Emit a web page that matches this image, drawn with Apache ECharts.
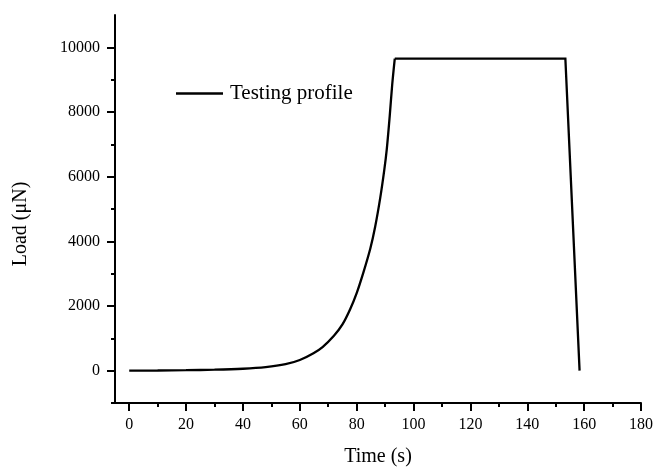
<!DOCTYPE html>
<html>
<head>
<meta charset="utf-8">
<script src="https://cdn.jsdelivr.net/npm/echarts@6/dist/echarts.min.js"></script>
<style>
  html, body { margin: 0; padding: 0; background: #fff; }
  #chart { width: 655px; height: 468px; }
</style>
</head>
<body>
<div id="chart"></div>
<script>
// Nanoindentation load profile: exponential loading ramp, hold, then unloading
const rampTime = [0, 10, 20, 30, 40, 48, 55, 60, 64.8, 68, 72, 75, 77.7, 80, 82.4, 84.8, 86.5, 88.3, 89.7, 90.6, 91.6, 92.5, 93.4];
const rampLoad = [0, 5, 15, 30, 60, 110, 200, 330, 540, 730, 1080, 1430, 1900, 2400, 3050, 3780, 4450, 5350, 6200, 6860, 7850, 8850, 9650];
const holdTime = [93.4, 153.4, 158.4];
const holdLoad = [9650, 9650, 0];

const xMajorTicks = [0, 20, 40, 60, 80, 100, 120, 140, 160, 180];
const xMinorTicks = [10, 30, 50, 70, 90, 110, 130, 150, 170];
const yMajorTicks = [0, 2000, 4000, 6000, 8000, 10000];
const yMinorTicks = [-1000, 1000, 3000, 5000, 7000, 9000];

const seriesName = 'Testing profile';
const FONT = '"Liberation Serif", "Times New Roman", serif';

const toPairs = (xs, ys) => xs.map((x, i) => [x, ys[i]]);

const chart = echarts.init(document.getElementById('chart'), null, { renderer: 'canvas' });

const black = '#000';
const X_RANGE = { min: -5, max: 180 };
const Y_RANGE = { min: -1000, max: 11000 };

// Axis that only carries a set of tick marks at given values
function tickAxis(range, position, values, length) {
  return Object.assign({
    type: 'value', position: position,
    axisLine: { show: false, onZero: false },
    axisTick: { show: true, length: length, inside: false, customValues: values, lineStyle: { color: black, width: 2 } },
    axisLabel: { show: false },
    splitLine: { show: false }
  }, range);
}

chart.setOption({
  animation: false,
  backgroundColor: '#fff',
  grid: { left: 115, right: 14, top: 15, bottom: 65, containLabel: false, outerBoundsMode: 'none' },
  legend: {
    data: [{ name: seriesName, icon: 'rect' }],
    left: 171,
    top: 78,
    itemWidth: 47,
    itemHeight: 2.5,
    textStyle: { fontFamily: FONT, fontSize: 21, color: black, padding: [0, 0, 0, 2] },
    itemStyle: { color: black }
  },
  xAxis: [
    Object.assign({
      type: 'value', position: 'bottom',
      name: 'Time (s)', nameLocation: 'middle', nameGap: 44,
      nameTextStyle: { fontFamily: FONT, fontSize: 20, color: black },
      axisLine: { show: true, onZero: false, lineStyle: { color: black, width: 2 } },
      axisTick: { show: false },
      axisLabel: { show: true, customValues: xMajorTicks, margin: 14, fontFamily: FONT, fontSize: 16, color: black, formatter: v => String(v) },
      splitLine: { show: false }
    }, X_RANGE),
    tickAxis(X_RANGE, 'bottom', xMajorTicks, 8),
    tickAxis(X_RANGE, 'bottom', xMinorTicks, 4)
  ],
  yAxis: [
    Object.assign({
      type: 'value', position: 'left',
      name: 'Load (\u03bcN)', nameLocation: 'middle', nameGap: 84,
      nameTextStyle: { fontFamily: FONT, fontSize: 20, color: black, padding: [0, 30, 0, 0] },
      axisLine: { show: true, onZero: false, lineStyle: { color: black, width: 2 } },
      axisTick: { show: false },
      axisLabel: { show: true, customValues: yMajorTicks, margin: 15, fontFamily: FONT, fontSize: 16, color: black, formatter: v => String(v) },
      splitLine: { show: false }
    }, Y_RANGE),
    tickAxis(Y_RANGE, 'left', yMajorTicks, 8),
    tickAxis(Y_RANGE, 'left', yMinorTicks, 4)
  ],
  series: [
    {
      name: seriesName,
      type: 'line',
      data: toPairs(rampTime, rampLoad),
      smooth: 0.3,
      showSymbol: false,
      symbol: 'none',
      lineStyle: { color: black, width: 2.3 },
      itemStyle: { color: black }
    },
    {
      name: seriesName,
      type: 'line',
      data: toPairs(holdTime, holdLoad),
      smooth: false,
      showSymbol: false,
      symbol: 'none',
      lineStyle: { color: black, width: 2.3, join: 'miter' },
      itemStyle: { color: black }
    }
  ]
});
</script>
</body>
</html>
